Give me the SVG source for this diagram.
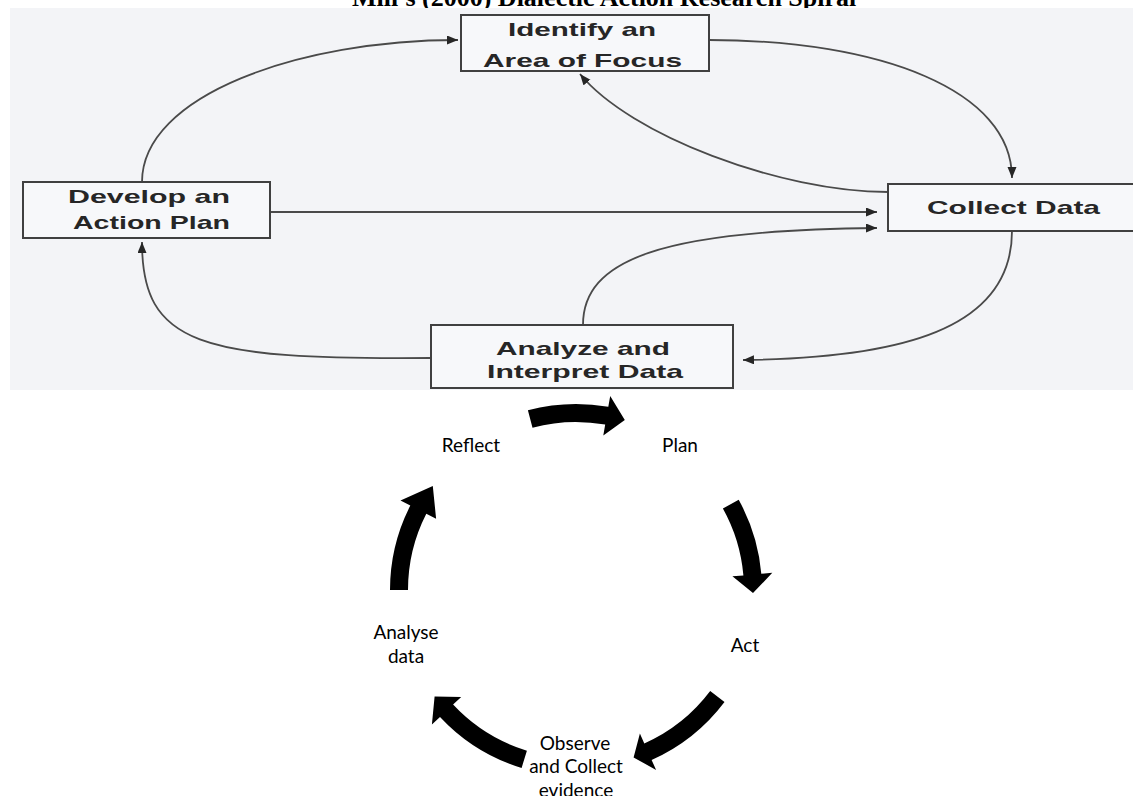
<svg xmlns="http://www.w3.org/2000/svg" width="1133" height="796" viewBox="0 0 1133 796">
<style>
.title{font-family:"Liberation Serif","Times New Roman",serif;font-weight:bold;font-size:26px;fill:#000}
.box{fill:#f7f8fa;stroke:#404040;stroke-width:2}
.bt{font-family:"Liberation Sans",Arial,sans-serif;font-weight:bold;font-size:19px;fill:#262626;text-anchor:middle}
.con{fill:none;stroke:#4a4a4a;stroke-width:1.8}
.lbl{font-family:Lato,"Open Sans",sans-serif;font-size:19px;fill:#000;text-anchor:middle}
.blk{fill:#000}
</style>
<defs>
<marker id="ah" markerUnits="userSpaceOnUse" markerWidth="12" markerHeight="10" refX="11" refY="4.5" orient="auto">
<path d="M0,0 L11,4.5 L0,9 Z" fill="#262626"/>
</marker>
</defs>
<rect width="1133" height="796" fill="#fff"/>
<text class="title" x="352" y="6">Mill's (2000) Dialectic Action Research Spiral</text>
<rect x="10" y="8" width="1123" height="382" fill="#f3f4f7"/>

<g id="connectors">
<path class="con" d="M142,182 C142,95 300,40 458,40" marker-end="url(#ah)"/>
<path class="con" d="M709,40 C880,40 1012,90 1012,178" marker-end="url(#ah)"/>
<path class="con" d="M888,192 C780,192 630,135 580,74" marker-end="url(#ah)"/>
<path class="con" d="M270,212 L877,212" marker-end="url(#ah)"/>
<path class="con" d="M583,325 C583,260 660,230 877,228" marker-end="url(#ah)"/>
<path class="con" d="M1012,231 C1012,330 900,358 743,360" marker-end="url(#ah)"/>
<path class="con" d="M431,358 C200,360 142,345 142,242" marker-end="url(#ah)"/>
</g>

<g id="identify">
<rect class="box" x="461" y="15" width="248" height="56"/>
<text class="bt" x="582" y="36" textLength="148" lengthAdjust="spacingAndGlyphs">Identify an</text>
<text class="bt" x="582.5" y="67" textLength="199" lengthAdjust="spacingAndGlyphs">Area of Focus</text>
</g>
<g id="develop">
<rect class="box" x="23" y="182" width="247" height="56"/>
<text class="bt" x="149" y="203" textLength="162" lengthAdjust="spacingAndGlyphs">Develop an</text>
<text class="bt" x="151.5" y="229" textLength="157" lengthAdjust="spacingAndGlyphs">Action Plan</text>
</g>
<g id="collect">
<rect class="box" x="888" y="184" width="250" height="47"/>
<text class="bt" x="1013.5" y="214" textLength="173" lengthAdjust="spacingAndGlyphs">Collect Data</text>
</g>
<g id="analyze">
<rect class="box" x="431" y="325" width="302" height="63"/>
<text class="bt" x="583" y="355" textLength="174" lengthAdjust="spacingAndGlyphs">Analyze and</text>
<text class="bt" x="585" y="378" textLength="196" lengthAdjust="spacingAndGlyphs">Interpret Data</text>
</g>

<g id="cycle-arrows">
<path class="blk" d="M527.9,410.3 A186,186 0 0 1 608.3,406.8 L610.2,396 L624.8,419.9 L603.3,435.4 L605.2,424.6 A168,168 0 0 0 532.5,427.7 Z"/>
<path class="blk" d="M738.7,499.8 A186,186 0 0 1 761.3,573.8 L772.3,572.8 L753,593.1 L732.4,576.3 L743.4,575.4 A168,168 0 0 0 722.9,508.6 Z"/>
<path class="blk" d="M724.5,701.9 A186,186 0 0 1 651.6,759.9 L656.1,770 L633.6,757.4 L639.9,733.4 L644.3,743.5 A168,168 0 0 0 710.2,691.1 Z"/>
<path class="blk" d="M521.6,767.9 A186,186 0 0 1 440,716.9 L431.9,724.4 L434.6,696.5 L461.2,697.1 L453.1,704.6 A168,168 0 0 0 526.9,750.7 Z"/>
<path class="blk" d="M390,590 A186,186 0 0 1 410.3,505.6 L400.5,500.6 L432.8,486 L436.1,518.7 L426.3,513.7 A168,168 0 0 0 408,590 Z"/>
</g>

<g id="reflect"><text class="lbl" x="471" y="452">Reflect</text></g>
<g id="plan"><text class="lbl" x="680" y="452">Plan</text></g>
<g id="act"><text class="lbl" x="745" y="652">Act</text></g>
<g id="observe"><text class="lbl" x="575" y="750">Observe</text><text class="lbl" x="576" y="773">and Collect</text><text class="lbl" x="576" y="797">evidence</text></g>
<g id="analyse"><text class="lbl" x="406" y="639">Analyse</text><text class="lbl" x="406" y="663">data</text></g>
</svg>
